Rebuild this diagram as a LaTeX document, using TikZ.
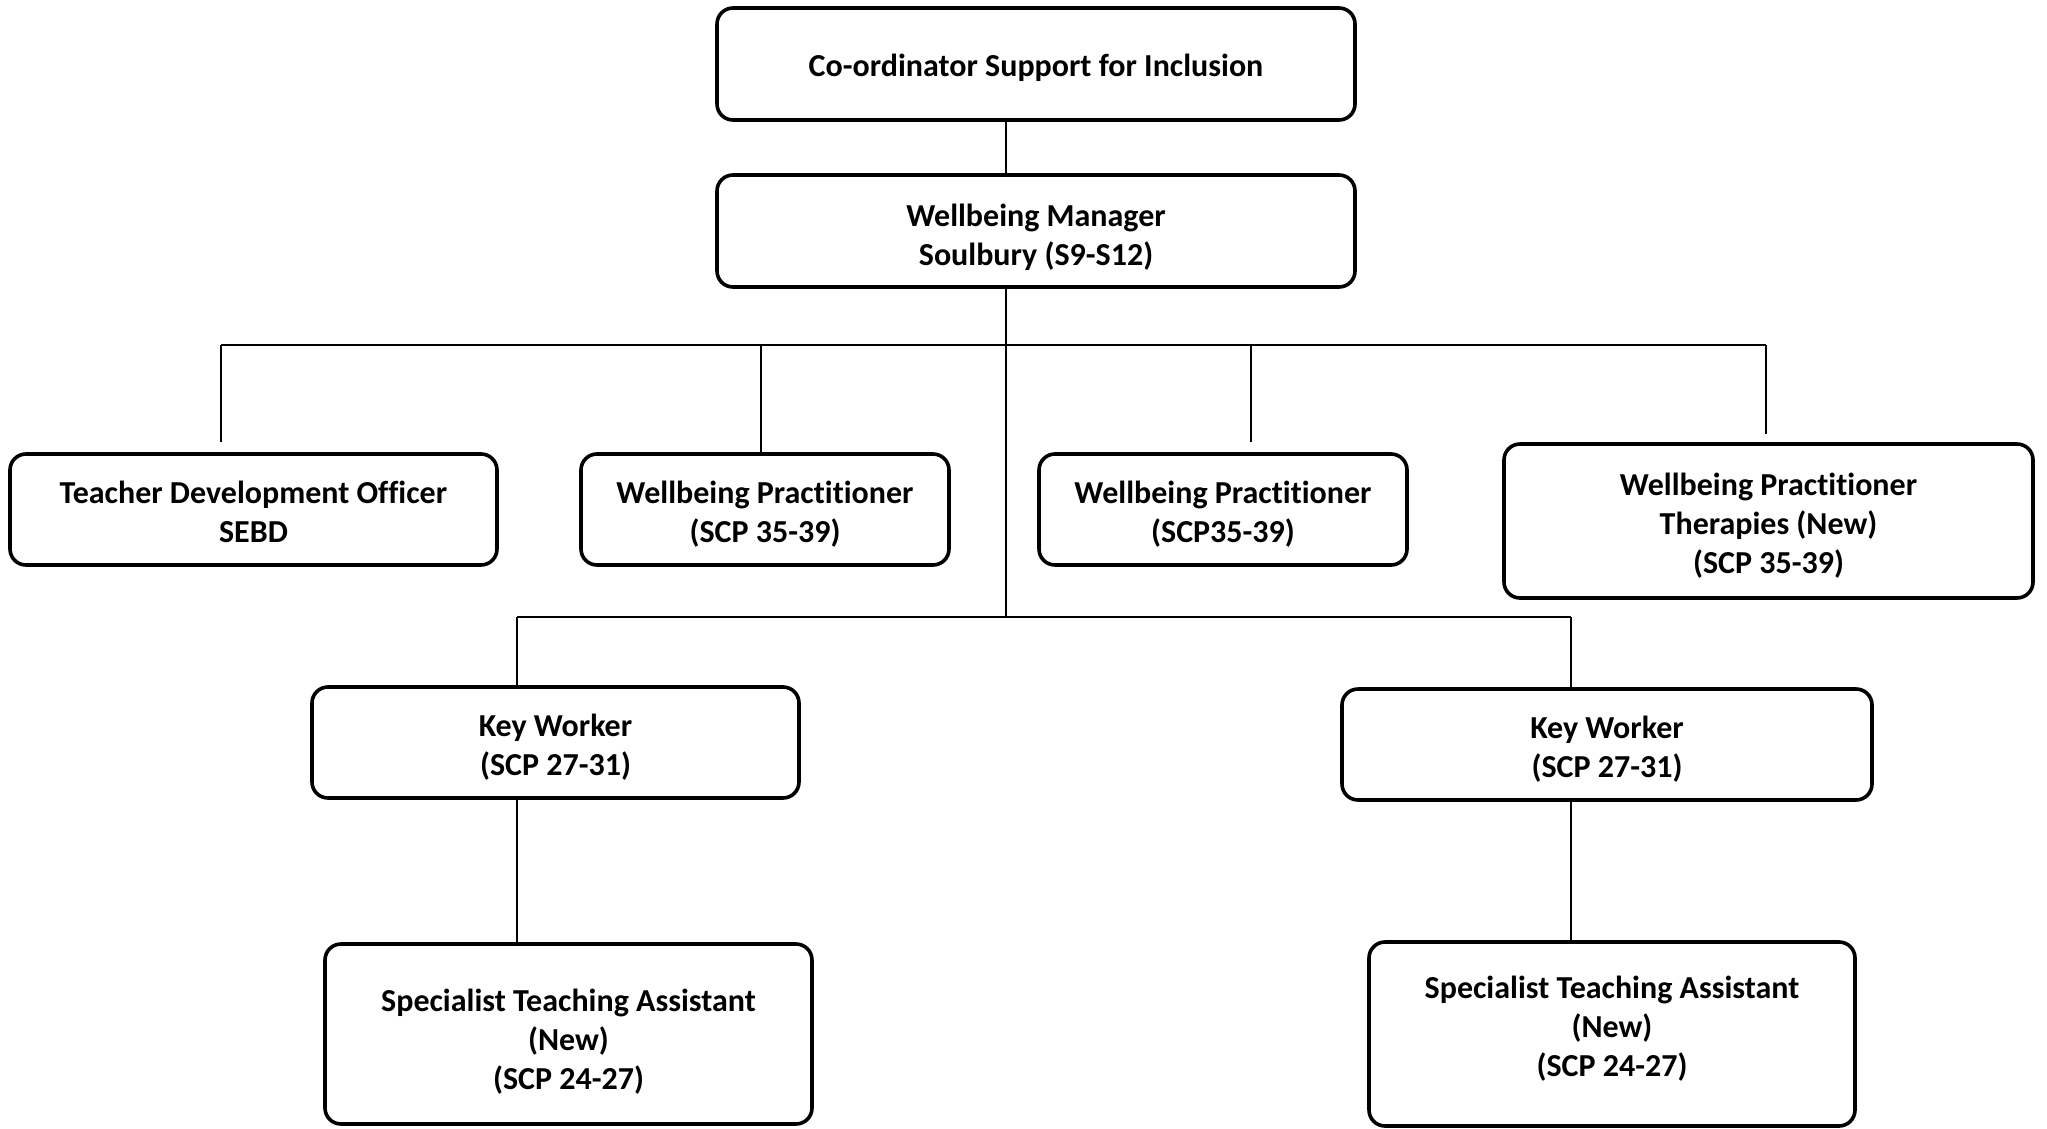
\documentclass[tikz,border=0pt]{standalone}
\usepackage{fontspec}
\setmainfont{Carlito}[Ligatures=NoCommon]
\usetikzlibrary{positioning}

\begin{document}
\begin{tikzpicture}[x=1pt,y=-1pt,
    post/.style={draw,line width=3.6pt,rounded corners=16pt,align=center,inner sep=0pt,
      font=\fontsize{32}{39}\selectfont\bfseries,text depth=8pt},
    oneline/.style={post,text height=34pt},
    twoline/.style={post,text height=73pt},
    threeline/.style={post,text height=113pt},
    link/.style={line width=1.4pt}]
  \useasboundingbox (0,0) rectangle (2047,1129);
  \node[oneline,minimum width=638,minimum height=112] (coord) at (1036,64) {Co-ordinator Support for Inclusion};
  \node[twoline,text height=76pt,minimum width=638,minimum height=112] (mgr) at (1036,231) {Wellbeing Manager\\Soulbury (S9-S12)};
  \node[twoline,minimum width=487,minimum height=111] (tdo) at (253.5,509.5) {Teacher Development Officer\\SEBD};
  \node[twoline,minimum width=368,minimum height=111] (wpa) at (765,509.5) {Wellbeing Practitioner\\(SCP 35-39)};
  \node[twoline,minimum width=368,minimum height=111] (wpb) at (1223,509.5) {Wellbeing Practitioner\\(SCP35-39)};
  \node[threeline,minimum width=529,minimum height=154] (wpc) at (1768.5,521) {Wellbeing Practitioner\\Therapies (New)\\(SCP 35-39)};
  \node[twoline,minimum width=487,minimum height=111] (kwa) at (555.5,742.5) {Key Worker\\(SCP 27-31)};
  \node[twoline,minimum width=530,minimum height=111] (kwb) at (1607,744.5) {Key Worker\\(SCP 27-31)};
  \node[threeline,text height=118pt,minimum width=487,minimum height=180] (staa) at (568.5,1034) {Specialist Teaching Assistant\\(New)\\(SCP 24-27)};
  \node[threeline,text height=110pt,text depth=26pt,minimum width=486,minimum height=184] (stab) at (1612,1034) {Specialist Teaching Assistant\\(New)\\(SCP 24-27)};
  \coordinate (trunk) at (1006,345);
  \coordinate (ba) at (221,345);
  \coordinate (bb) at (761,345);
  \coordinate (bc) at (1251,345);
  \coordinate (bd) at (1766,345);
  \coordinate (ka) at (517,617);
  \coordinate (kb) at (1571,617);
  \draw[link] (coord.south -| trunk) -- (mgr.north -| trunk);
  \draw[link] (mgr.south -| trunk) -- (trunk |- ka);
  \draw[link] (ba) -- (bd);
  \draw[link,shorten >=10pt] (ba) -- (ba |- tdo.north);
  \draw[link] (bb) -- (bb |- wpa.north);
  \draw[link,shorten >=10pt] (bc) -- (bc |- wpb.north);
  \draw[link,shorten >=8pt] (bd) -- (bd |- wpc.north);
  \draw[link] (ka) -- (kb);
  \draw[link] (ka) -- (ka |- kwa.north);
  \draw[link] (kb) -- (kb |- kwb.north);
  \draw[link] (kwa.south -| ka) -- (staa.north -| ka);
  \draw[link] (kwb.south -| kb) -- (stab.north -| kb);
\end{tikzpicture}
\end{document}
